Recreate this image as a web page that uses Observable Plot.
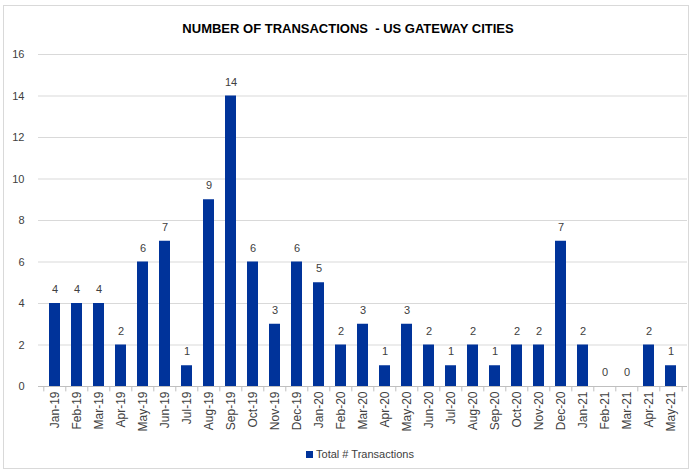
<!DOCTYPE html>
<html>
<head>
<meta charset="utf-8">
<script src="https://cdn.jsdelivr.net/npm/d3@7"></script>
<script src="https://cdn.jsdelivr.net/npm/@observablehq/plot@0.6"></script>
<style>
  html, body { margin: 0; padding: 0; background: #fff; }
  #frame { position: absolute; left: 3px; top: 5px; width: 686px; height: 464px; border: 1px solid #d9d9d9; box-sizing: border-box; }
  #title { position: absolute; left: 0; top: 21px; width: 696px; text-align: center; font: bold 13px "Liberation Sans", Arial, sans-serif; color: #000; }
  #chart { position: absolute; left: 0; top: 40px; }
  #legend { position: absolute; left: 0; top: 448px; width: 696px; text-align: center; font: 11px "Liberation Sans", Arial, sans-serif; color: #404040; padding-left: 24px; box-sizing: border-box; }
  #legend .sw { display: inline-block; width: 7px; height: 7px; background: #00339a; margin-right: 3px; vertical-align: 0px; }
</style>
</head>
<body>
<div id="frame"></div>
<div id="title">NUMBER OF TRANSACTIONS &nbsp;- US GATEWAY CITIES</div>
<div id="chart"></div>
<div id="legend"><span class="sw"></span>Total # Transactions</div>
<script>
const months = ["Jan-19","Feb-19","Mar-19","Apr-19","May-19","Jun-19","Jul-19","Aug-19","Sep-19","Oct-19","Nov-19","Dec-19",
  "Jan-20","Feb-20","Mar-20","Apr-20","May-20","Jun-20","Jul-20","Aug-20","Sep-20","Oct-20","Nov-20","Dec-20",
  "Jan-21","Feb-21","Mar-21","Apr-21","May-21"];
const transactions = [4,4,4,2,6,7,1,9,14,6,3,6,5,2,3,1,3,2,1,2,1,2,2,7,2,0,0,2,1];
const yTicks = [0,2,4,6,8,10,12,14,16];

const data = months.map((m, i) => ({month: m, value: transactions[i]}));

const W = 696, H = 410, ML = 38, MR = 9;
const band = (W - ML - MR) / months.length;

const chart = Plot.plot({
  width: W,
  height: H,
  marginLeft: ML,
  marginRight: MR,
  marginTop: 14,
  marginBottom: 64,
  style: {fontFamily: "'Liberation Sans', Arial, sans-serif", fontSize: "11px", color: "#595959", background: "transparent"},
  x: {domain: months, padding: 0.5, label: null},
  y: {domain: [0, 16], ticks: yTicks, label: null},
  marks: [
    Plot.ruleY(yTicks.filter(t => t > 0), {stroke: "#d9d9d9", strokeWidth: 1}),
    Plot.barY(data, {x: "month", y: "value", fill: "#00339a"}),
    Plot.ruleY([0], {stroke: "#bfbfbf", strokeWidth: 1}),
    Plot.ruleX(months, {x: d => d, y1: 0, y2: -0.26, dx: -band / 2, stroke: "#bfbfbf"}),
    Plot.ruleX([months[months.length - 1]], {x: d => d, y1: 0, y2: -0.26, dx: band / 2, stroke: "#bfbfbf"}),
    Plot.text(data, {x: "month", y: "value", text: d => String(d.value), dy: -14, fill: "#404040", fontSize: 11}),
    Plot.axisY({ticks: yTicks, tickSize: 0, tickPadding: 14, fill: "#404040", fontSize: 11}),
    Plot.axisX({tickSize: 0, tickRotate: -90, tickPadding: 5, fill: "#404040", fontSize: 12})
  ]
});
document.getElementById("chart").appendChild(chart);
</script>
</body>
</html>
